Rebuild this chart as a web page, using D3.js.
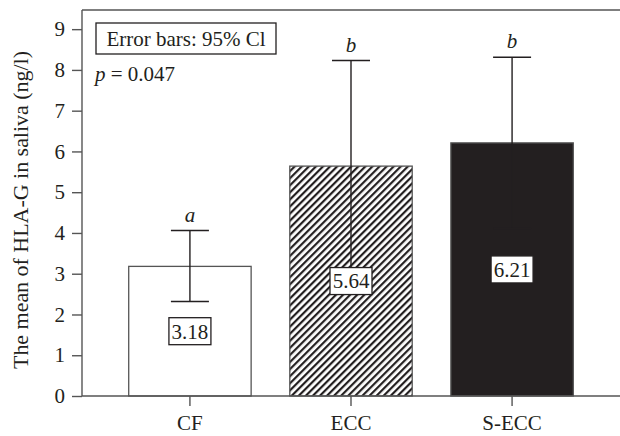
<!DOCTYPE html>
<html>
<head>
<meta charset="utf-8">
<script src="https://cdn.jsdelivr.net/npm/d3@7"></script>
<style>
  body { margin: 0; background: #fff; }
  svg { display: block; }
  text { font-family: "Liberation Serif", "DejaVu Serif", serif; fill: #231f20; }
</style>
</head>
<body>
<div id="chart"></div>
<script>
// data
const groups = ["CF", "ECC", "S-ECC"];
const means = [3.18, 5.64, 6.21];
const ciLow = [2.32, 3.05, 4.11];
const ciHigh = [4.06, 8.23, 8.31];
const letters = ["a", "b", "b"];
const yTicks = [0, 1, 2, 3, 4, 5, 6, 7, 8, 9];

const width = 620, height = 436;
const margin = {top: 10, right: 0, bottom: 40, left: 82};
const yMax = 9.47;
const axisColor = "#555";
const fontSize = "21px";

const svg = d3.select("#chart").append("svg")
    .attr("width", width)
    .attr("height", height);

// hatch pattern for ECC
const defs = svg.append("defs");
const pat = defs.append("pattern")
    .attr("id", "hatch")
    .attr("patternUnits", "userSpaceOnUse")
    .attr("width", 5).attr("height", 5)
    .attr("patternTransform", "rotate(45)");
pat.append("rect").attr("width", 5).attr("height", 5).attr("fill", "#fff");
pat.append("rect").attr("x", 0).attr("width", 2.2).attr("height", 5).attr("fill", "#231f20");

const x = d3.scaleBand()
    .domain(groups)
    .range([margin.left, width - margin.right])
    .paddingInner(0.24)
    .paddingOuter(0.29);

const y = d3.scaleLinear()
    .domain([0, yMax])
    .range([height - margin.bottom, margin.top]);

const fills = ["#fff", "url(#hatch)", "#231f20"];

// frame top line
svg.append("line")
    .attr("x1", margin.left).attr("x2", width)
    .attr("y1", y(yMax)).attr("y2", y(yMax))
    .attr("stroke", axisColor).attr("stroke-width", 1.4);

// bars
svg.selectAll(".bar")
  .data(groups)
  .enter()
  .append("rect")
    .attr("class", "bar")
    .attr("x", d => x(d))
    .attr("width", x.bandwidth())
    .attr("y", (d, i) => y(means[i]))
    .attr("height", (d, i) => y(0) - y(means[i]))
    .attr("fill", (d, i) => fills[i])
    .attr("stroke", axisColor)
    .attr("stroke-width", 1.3);

// error bars
const capW = 19;
const eb = svg.selectAll(".eb")
  .data(groups)
  .enter()
  .append("g")
    .attr("class", "eb")
    .attr("stroke", "#231f20")
    .attr("stroke-width", 1.4);
eb.append("line")
    .attr("x1", d => x(d) + x.bandwidth() / 2)
    .attr("x2", d => x(d) + x.bandwidth() / 2)
    .attr("y1", (d, i) => y(ciLow[i]))
    .attr("y2", (d, i) => y(ciHigh[i]));
eb.append("line")
    .attr("x1", d => x(d) + x.bandwidth() / 2 - capW)
    .attr("x2", d => x(d) + x.bandwidth() / 2 + capW)
    .attr("y1", (d, i) => y(ciHigh[i]))
    .attr("y2", (d, i) => y(ciHigh[i]));
eb.append("line")
    .attr("x1", d => x(d) + x.bandwidth() / 2 - capW)
    .attr("x2", d => x(d) + x.bandwidth() / 2 + capW)
    .attr("y1", (d, i) => y(ciLow[i]))
    .attr("y2", (d, i) => y(ciLow[i]));

// significance letters
svg.selectAll(".letter")
  .data(groups)
  .enter()
  .append("text")
    .attr("class", "letter")
    .attr("x", d => x(d) + x.bandwidth() / 2)
    .attr("y", (d, i) => y(ciHigh[i]) - 9)
    .attr("text-anchor", "middle")
    .style("font-size", fontSize)
    .style("font-style", "italic")
    .text((d, i) => letters[i]);

// value labels in boxes
const vl = svg.selectAll(".vlabel")
  .data(groups)
  .enter()
  .append("g")
    .attr("class", "vlabel")
    .attr("transform", (d, i) => `translate(${x(d) + x.bandwidth() / 2},${y(means[i] / 2)})`);
vl.append("rect")
    .attr("x", -21).attr("y", -13.5)
    .attr("width", 42).attr("height", 27)
    .attr("fill", "#fff")
    .attr("stroke", "#231f20")
    .attr("stroke-width", 1.3);
vl.append("text")
    .attr("text-anchor", "middle")
    .attr("dy", "0.35em")
    .style("font-size", fontSize)
    .text((d, i) => means[i].toFixed(2));

// axes
const yAxis = svg.append("g")
    .attr("transform", `translate(${margin.left},0)`)
    .call(d3.axisLeft(y).tickValues(yTicks).tickSize(10).tickPadding(7));
yAxis.select(".domain").attr("stroke", axisColor).attr("stroke-width", 1.4)
    .attr("d", `M0,${y(0)}V${y(yMax)}`);
yAxis.selectAll(".tick line").attr("stroke", axisColor).attr("stroke-width", 1.4);
yAxis.selectAll(".tick text").style("font-size", fontSize)
    .style("font-family", "Liberation Serif, serif").attr("fill", "#231f20");

const xAxis = svg.append("g")
    .attr("transform", `translate(0,${y(0)})`)
    .call(d3.axisBottom(x).tickSize(10).tickPadding(9));
xAxis.select(".domain").attr("stroke", axisColor).attr("stroke-width", 1.4)
    .attr("d", `M${margin.left},0H${width}`);
xAxis.selectAll(".tick line").attr("stroke", axisColor).attr("stroke-width", 1.4);
xAxis.selectAll(".tick text").style("font-size", fontSize)
    .style("font-family", "Liberation Serif, serif").attr("fill", "#231f20");

// y title
svg.append("text")
    .attr("transform", "translate(28,210) rotate(-90)")
    .attr("text-anchor", "middle")
    .attr("textLength", 318)
    .attr("lengthAdjust", "spacingAndGlyphs")
    .style("font-size", fontSize)
    .text("The mean of HLA-G in saliva (ng/l)");

// legend box
svg.append("rect")
    .attr("x", 96).attr("y", 23)
    .attr("width", 180).attr("height", 31)
    .attr("fill", "#fff")
    .attr("stroke", "#231f20")
    .attr("stroke-width", 1.3);
svg.append("text")
    .attr("x", 186).attr("y", 46)
    .attr("text-anchor", "middle")
    .style("font-size", fontSize)
    .text("Error bars: 95% Cl");

const pt = svg.append("text")
    .attr("x", 95).attr("y", 81)
    .style("font-size", fontSize);
pt.append("tspan").style("font-style", "italic").text("p");
pt.append("tspan").text(" = 0.047");
</script>
</body>
</html>
